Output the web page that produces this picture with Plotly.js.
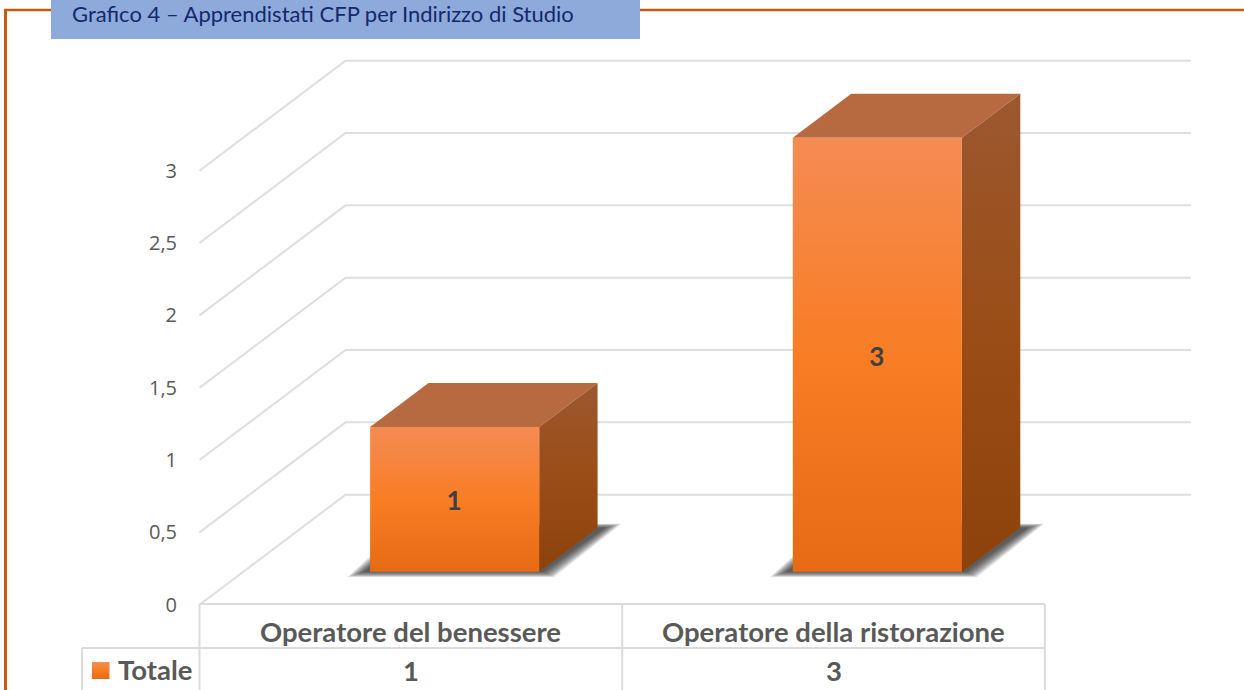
<!DOCTYPE html>
<html lang="it">
<head>
<meta charset="utf-8">
<title>Grafico 4</title>
<script src="https://cdn.plot.ly/plotly-3.0.1.min.js"></script>
<style>html,body{margin:0;padding:0;background:#fff;overflow:hidden}#chart{width:1244px;height:690px}</style>
</head>
<body>
<div id="chart"></div>
<script>
const chartTitle = "Grafico 4 – Apprendistati CFP per Indirizzo di Studio";
const seriesName = "Totale";
const categories = ["Operatore del benessere", "Operatore della ristorazione"];
const totals = [1, 3];
const tickValues = [0, 0.5, 1, 1.5, 2, 2.5, 3];

const W = 1244, H = 690;
const X0 = 199.5, XU = 422.7;   // px of x=0, px per category
const Y0 = 604.7, YU = 144.67;  // px of value 0, px per unit
const DX = 146 / XU, DY = 110 / YU; // full wall depth in axis units
const xOfPx = p => (p - X0) / XU;
const yOfPx = p => (Y0 - p) / YU;
const pyFrac = p => 1 - p / H;
const HALF = 0.2, NEAR = 0.3, FAR = 0.7;

const faceFront = [[0, "#E76A14"], [0.5, "#F87D25"], [1, "#F48C53"]];
const faceSide = [[0, "#8E420B"], [0.5, "#9A4D16"], [1, "#9C5830"]];
const faceTop = "#B76A3F";
const grid = "#DEDEDE";
const traces = [];

function poly(pts, extra) {
  traces.push(Object.assign({
    type: "scatter", mode: "lines", x: pts.map(p => p[0]), y: pts.map(p => p[1]),
    hoverinfo: "skip", showlegend: false, line: {width: 0}
  }, extra));
}
function solid(pts, color) {
  poly(pts.concat([pts[0]]), {fill: "toself", fillcolor: color, line: {width: 0, color: color}});
}
function grad(pts, scale) {
  poly(pts.concat([pts[0]]), {fill: "toself", fillgradient: {type: "vertical", colorscale: scale}, line: {width: 0}});
}

// gridlines on walls and floor
tickValues.forEach(v => {
  poly([[0, v], [DX, v + DY], [2 + DX, v + DY]], {line: {color: grid, width: 2}});
});

categories.forEach((c, i) => {
  const v = totals[i];
  const cx = i + 0.5;
  const xl = cx - HALF, xr = cx + HALF;
  const pr = d => DX * d, ur = d => DY * d;
  // soft floor shadow, built from stacked translucent footprints
  const LAYERS = 14;
  for (let k = 0; k < LAYERS; k++) {
    const t = 1 - k / (LAYERS - 1);
    solid([
      [xl + pr(NEAR) - (6 + t * 17) / XU, ur(NEAR) - (t * 5.5) / YU],
      [xr + pr(NEAR) + (4 + t * 11) / XU, ur(NEAR) - (t * 5.5) / YU],
      [xr + pr(FAR) + (7 + t * 17) / XU, ur(FAR) + (t * 4) / YU],
      [xl + pr(FAR) - (6 + t * 17) / XU, ur(FAR) + (t * 4) / YU]
    ], "rgba(30,30,30,0.085)");
  }
  const a = [xl + pr(NEAR), ur(NEAR)], b = [xr + pr(NEAR), ur(NEAR)];
  const e = [xr + pr(FAR), ur(FAR)], f = [xl + pr(FAR), ur(FAR)];
  // top face
  solid([[a[0], a[1] + v], [b[0], b[1] + v], [e[0], e[1] + v], [f[0], f[1] + v]], faceTop);
  // side face
  grad([b, e, [e[0], e[1] + v], [b[0], b[1] + v]], faceSide);
  // front face
  grad([a, b, [b[0], b[1] + v], [a[0], a[1] + v]], faceFront);
  // data label
  traces.push({
    type: "scatter", mode: "text", x: [(a[0] + b[0]) / 2 - 0.5 / XU], y: [a[1] + v / 2 - 4.5 / YU], text: [String(v)],
    textposition: "middle center", hoverinfo: "skip", showlegend: false,
    textfont: {family: "Lato, sans-serif", size: 26, weight: 700, color: "#404040"}
  });
});

// legend key in the data table
const kx0 = xOfPx(92), kx1 = xOfPx(109.5), ky0 = yOfPx(679), ky1 = yOfPx(662);
grad([[kx0, ky0], [kx1, ky0], [kx1, ky1], [kx0, ky1]], faceFront);

// decoration and data table
const line = (x0, y0, x1, y1, color, width, xref) => ({
  type: "line", xref: xref || "x", yref: "paper",
  x0, x1, y0: pyFrac(y0), y1: pyFrac(y1), line: {color, width}, layer: "above"
});
const border = "#C55A11";
const tableColor = "#DBDBDB";
const shapes = [
  line(5.5 / W, 10, 5.5 / W, H, border, 3, "paper"),
  line(4 / W, 10, W / W, 10, border, 2.5, "paper"),
  {type: "rect", xref: "paper", yref: "paper", x0: 51 / W, x1: 640 / W, y0: pyFrac(39), y1: 1.01,
   fillcolor: "#8EAADB", line: {width: 0}, layer: "above"},
  line(0, 604, categories.length, 604, tableColor, 2),
  line(xOfPx(82), 648, categories.length, 648, tableColor, 2),
  line(xOfPx(82), 648, xOfPx(82), H, tableColor, 2)
];
for (let i = 0; i <= categories.length; i++) shapes.push(line(i, 604, i, H, tableColor, 2));

const cellFont = {family: "Lato, sans-serif", size: 27.5, weight: 700, color: "#595959"};
const annotations = [{
  xref: "paper", yref: "paper", x: 71 / W, y: 1, xanchor: "left", yanchor: "top", borderpad: 0, yshift: 1,
  text: chartTitle, showarrow: false,
  font: {family: "Lato, sans-serif", size: 22, color: "#14296B"}
}, {
  xref: "paper", yref: "paper", x: 194 / W, y: pyFrac(669), xanchor: "right", yanchor: "middle",
  text: seriesName, showarrow: false, font: cellFont
}];
categories.forEach((c, i) => {
  annotations.push({xref: "x", yref: "paper", x: i + 0.5, y: pyFrac(631), yanchor: "middle", text: c, showarrow: false, font: cellFont});
  annotations.push({xref: "x", yref: "paper", x: i + 0.5, y: pyFrac(670), yanchor: "middle", text: String(totals[i]), showarrow: false, font: cellFont});
});

const layout = {
  width: W, height: H, margin: {l: 0, r: 0, t: 0, b: 0, pad: 0},
  paper_bgcolor: "#fff", plot_bgcolor: "rgba(0,0,0,0)", showlegend: false, separators: ",.",
  xaxis: {range: [xOfPx(0), xOfPx(W)], visible: false, fixedrange: true},
  yaxis: {
    range: [yOfPx(H), yOfPx(0)], anchor: "free", position: X0 / W, side: "left",
    tickmode: "array", tickvals: tickValues, ticks: "outside", ticklen: 18.5, tickcolor: "rgba(0,0,0,0)",
    showgrid: false, zeroline: false, showline: false, fixedrange: true,
    tickfont: {family: "Open Sans, sans-serif", size: 20, color: "#595959"}
  },
  shapes, annotations
};
Plotly.newPlot("chart", traces, layout, {displayModeBar: false, staticPlot: true});
</script>
</body>
</html>
